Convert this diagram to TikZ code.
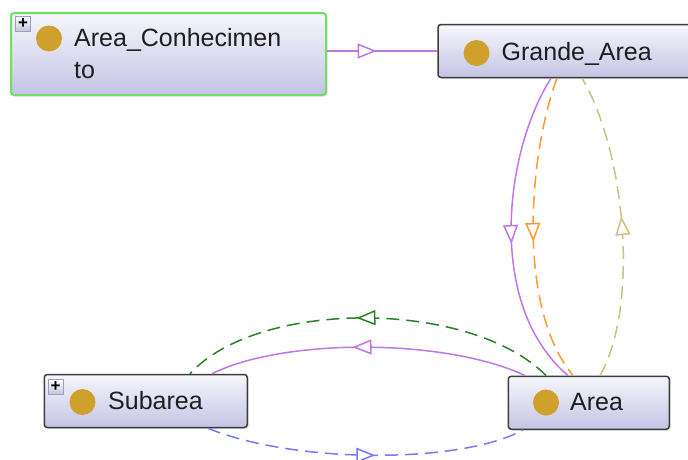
\documentclass[tikz,border=0pt]{standalone}
\usepackage{fontspec}
\setmainfont{Liberation Sans}
\usetikzlibrary{arrows.meta,decorations.markings,shadows}
\definecolor{boxtop}{RGB}{246,246,252}
\definecolor{boxbot}{RGB}{196,196,228}
\definecolor{boxline}{RGB}{60,60,60}
\definecolor{selgreen}{RGB}{110,222,100}
\definecolor{clsgold}{RGB}{208,160,45}
\definecolor{txtgray}{RGB}{30,30,30}
\definecolor{subpurple}{RGB}{190,120,230}
\definecolor{relorange}{RGB}{255,153,51}
\definecolor{relkhaki}{RGB}{200,195,130}
\definecolor{relgreen}{RGB}{40,130,40}
\definecolor{relblue}{RGB}{120,120,255}
\begin{document}
\begin{tikzpicture}[x=1pt,y=-1pt,
    cls/.style={draw=boxline, line width=1.5pt, rounded corners=3pt, top color=boxtop, bottom color=boxbot, inner sep=0pt, minimum height=53, drop shadow={shadow xshift=1.5pt, shadow yshift=-1.5pt, opacity=0.2}},
    dot/.style={circle, fill=clsgold, minimum size=26, inner sep=0pt},
    plus/.style={draw=gray!70!blue!60, line width=0.9pt, top color=white, bottom color=blue!15!gray!40, minimum size=15, inner sep=0pt, font=\fontsize{17}{17}\selectfont\bfseries},
    lbl/.style={anchor=base west, inner sep=0pt, text=txtgray, font=\fontsize{25}{31.6}\selectfont},
    rel/.style={line width=1.5pt},
    dsh/.style={rel, dash pattern=on 13pt off 7pt},
    midarrow/.style={postaction={decorate}, decoration={markings, mark=at position #1 with {\arrow{Triangle[length=19pt, width=15pt, fill=white]}}}},
    midarrow/.default=0.5]
    \useasboundingbox (0,0) rectangle (688,459);
    \clip (0,0) rectangle (688,459);
    \node[cls, draw=selgreen, line width=2pt, minimum width=315, minimum height=82] (ac) at (168.5,54) {};
    \node[cls, minimum width=262] (ga) at (569,51) {};
    \node[cls, minimum width=203] (sub) at (145.75,401) {};
    \node[cls, minimum width=161] (ar) at (588.75,402.75) {};
    \node[dot] (acdot) at (49,38.5) {};
    \node[dot] (gadot) at (476.5,53) {};
    \node[dot] (subdot) at (82.5,402) {};
    \node[dot] (ardot) at (546,402.5) {};
    \node[plus] (acplus) at (23,24) {+};
    \node[plus] (subplus) at (55.5,387) {+};
    \node[lbl, align=left] (acname) at (74,78.3) {Area\_Conhecimen\\to};
    \node[lbl] (ganame) at (501.5,60) {Grande\_Area};
    \node[lbl] (subname) at (108,409.3) {Subarea};
    \node[lbl] (arname) at (570,410) {Area};
    \draw[rel, subpurple, midarrow=0.45] ([yshift=3pt]ac.east) -- (ga.west);
    \draw[rel, subpurple, midarrow=0.54] ([xshift=-18pt]ga.south) .. controls (505,150) and (485,305) .. ([xshift=-20.75pt]ar.north);
    \draw[dsh, relorange, midarrow=0.54] ([xshift=-12pt]ga.south) .. controls (530,150) and (515,305) .. ([xshift=-15.75pt]ar.north);
    \draw[dsh, relkhaki, midarrow=0.53] ([xshift=11.25pt]ar.north) .. controls (640,305) and (625,150) .. ([xshift=13pt]ga.south);
    \draw[dsh, relgreen, midarrow=0.53] ([xshift=-42.75pt]ar.north) .. controls (470,299) and (258,299) .. ([xshift=44.25pt]sub.north);
    \draw[rel, subpurple, midarrow=0.55] ([xshift=-63.75pt]ar.north) .. controls (445,338) and (283,338) .. ([xshift=66.25pt]sub.north);
    \draw[dsh, relblue, midarrow=0.53] ([xshift=62.25pt]sub.south) .. controls (295,464) and (461,464) .. ([xshift=-65.75pt]ar.south);
\end{tikzpicture}
\end{document}
